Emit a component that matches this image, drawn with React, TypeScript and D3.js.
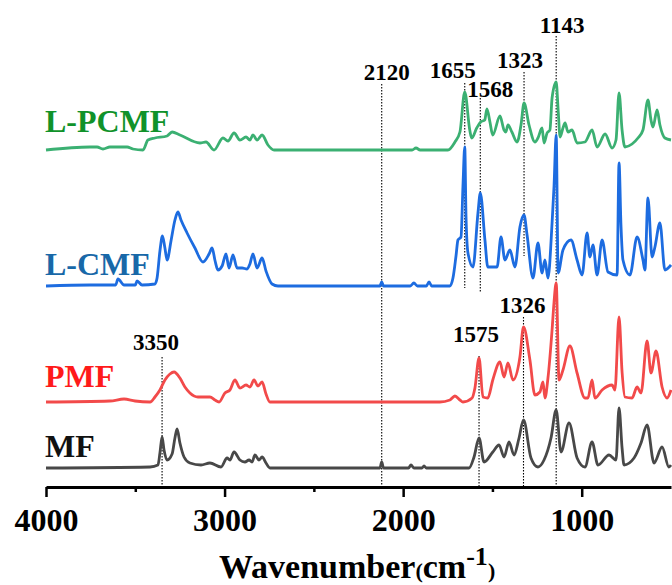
import { useEffect, useRef } from "react";
import * as d3 from "d3";

// FTIR spectra, [wavenumber (cm-1), intensity above own baseline (a.u.)]
const mfSpectrum: [number, number][] = [
  [4000, 0], [3417, 1], [3373, 3], [3362, 15], [3350, 31], [3339, 18], [3322, 8],
  [3294, 14], [3278, 30], [3266, 39], [3250, 25], [3227, 11], [3194, 5], [3132, 3],
  [3082, 5], [3020, 1], [2986, 10], [2970, 8], [2947, 16], [2914, 8], [2886, 6],
  [2863, 8], [2846, 6], [2830, 13], [2807, 8], [2790, 11], [2768, 5], [2746, 0],
  [2130, 0], [2120, 6], [2110, 0], [1970, 0], [1956, 3], [1940, 0], [1895, 0], [1883, 2],
  [1870, 0], [1631, 0], [1603, 11], [1575, 30], [1547, 6], [1498, 16], [1463, 23],
  [1435, 11], [1407, 26], [1379, 13], [1351, 30], [1326, 48], [1284, 10], [1245, 1],
  [1211, 8], [1172, 30], [1143, 58], [1116, 16], [1071, 45], [1026, 10], [982, 1],
  [942, 26], [909, 3], [847, 13], [808, 8], [791, 60], [774, 20], [763, 3], [707, 10],
  [668, 25], [634, 43], [595, 5], [550, 21], [512, 1], [500, 3],
];

const pmfSpectrum: [number, number][] = [
  [4000, 0], [3642, 1], [3563, 3], [3501, 1], [3417, 0], [3390, 5], [3362, 12],
  [3334, 22], [3306, 28], [3283, 30], [3250, 24], [3222, 15], [3194, 9], [3149, 5],
  [3082, 5], [3054, 2], [3031, 0], [2998, 9], [2970, 12], [2942, 22], [2914, 14],
  [2880, 17], [2858, 15], [2835, 22], [2813, 16], [2790, 20], [2768, 8], [2746, 0],
  [1794, 0], [1738, 2], [1710, 6], [1682, 2], [1665, 0], [1614, 4], [1598, 14],
  [1575, 44], [1553, 5], [1526, 4], [1498, 22], [1458, 40], [1435, 25], [1413, 39],
  [1385, 22], [1346, 45], [1326, 75], [1290, 42], [1262, 7], [1234, 10], [1217, 20],
  [1206, 4], [1189, 24], [1166, 72], [1155, 100], [1143, 119], [1127, 22], [1105, 32],
  [1066, 56], [1026, 29], [982, 4], [965, 4], [942, 22], [926, 4], [886, 12], [830, 17],
  [814, 12], [791, 85], [774, 30], [758, 5], [718, 4], [690, 15], [668, 9], [634, 61],
  [612, 29], [584, 51], [550, 15], [522, 4], [500, 12],
];

const lcmfSpectrum: [number, number][] = [
  [4000, 0], [3754, 1], [3610, 1], [3597, 7], [3563, 1], [3500, 1], [3490, 5],
  [3462, 1], [3390, 2], [3378, 8], [3362, 35], [3348, 50], [3334, 38], [3322, 26],
  [3300, 45], [3278, 66], [3261, 74], [3244, 66], [3210, 53], [3166, 38], [3121, 24],
  [3087, 32], [3070, 38], [3053, 25], [3037, 16], [3014, 20], [2992, 32], [2975, 18],
  [2953, 31], [2930, 18], [2902, 18], [2874, 17], [2858, 22], [2841, 32], [2818, 18],
  [2790, 28], [2768, 15], [2734, 2], [2701, 0], [2130, 0], [2120, 4], [2110, 0],
  [1960, 0], [1940, 3], [1920, 0], [1870, 0], [1855, 4], [1840, 0], [1738, 0],
  [1721, 8], [1704, 30], [1693, 46], [1676, 49], [1665, 100], [1655, 139], [1648, 70],
  [1637, 33], [1609, 19], [1581, 73], [1568, 93], [1542, 46], [1526, 19], [1474, 19],
  [1452, 49], [1430, 26], [1402, 36], [1374, 19], [1346, 59], [1323, 71], [1306, 51],
  [1273, 8], [1245, 43], [1222, 13], [1206, 26], [1189, 8], [1166, 63], [1155, 100],
  [1143, 151], [1132, 13], [1105, 36], [1060, 46], [1026, 26], [998, 11], [970, 53],
  [954, 29], [937, 41], [914, 11], [886, 46], [853, 14], [802, 11], [791, 123],
  [780, 60], [769, 26], [730, 11], [690, 49], [657, 26], [646, 16], [629, 88],
  [606, 29], [590, 39], [562, 63], [534, 16], [500, 21],
];

const lpcmfSpectrum: [number, number][] = [
  [4000, 0], [3754, 3], [3714, 3], [3681, 1], [3642, 3], [3546, 3], [3513, 1],
  [3457, 0], [3429, 10], [3390, 12], [3322, 14], [3294, 18], [3250, 15], [3138, 7],
  [3104, 8], [3059, 0], [3009, 12], [2981, 9], [2947, 17], [2914, 10], [2880, 13],
  [2858, 10], [2841, 15], [2818, 10], [2790, 15], [2757, 5], [2723, 0], [1950, 0],
  [1928, 2], [1905, 0], [1749, 0], [1710, 8], [1682, 18], [1655, 58], [1627, 20],
  [1616, 12], [1588, 22], [1566, 28], [1543, 30], [1531, 41], [1514, 28], [1498, 15],
  [1458, 34], [1435, 20], [1425, 18], [1413, 25], [1391, 18], [1362, 8], [1340, 25],
  [1323, 47], [1295, 25], [1262, 8], [1245, 12], [1222, 22], [1211, 7], [1194, 17],
  [1178, 20], [1166, 52], [1143, 68], [1132, 40], [1121, 13], [1105, 22], [1093, 27],
  [1077, 18], [1054, 20], [1026, 7], [982, 8], [942, 20], [914, 3], [869, 16],
  [830, 2], [808, 10], [791, 57], [774, 20], [758, 3], [718, 6], [685, 12], [657, 20],
  [629, 50], [612, 30], [601, 23], [578, 40], [562, 25], [534, 12], [500, 10],
];

const seriesNames = ["MF", "PMF", "L-CMF", "L-PCMF"];
const seriesData = [mfSpectrum, pmfSpectrum, lcmfSpectrum, lpcmfSpectrum];
const seriesOffsets = [19, 85, 201, 337];
const lineColors = ["#484848", "#f24a4a", "#1d6ce0", "#3bb072"];
const labelColors = ["#111111", "#ff1a1a", "#1868a8", "#10922a"];
// label baseline, in a.u. on the same axis
const labelLevels = [30, 100, 212, 355];

const majorTicks = [4000, 3000, 2000, 1000];
const minorTicks = [3500, 2500, 1500];

// marked peaks: wavenumber, text, where the dotted guide starts and stops (a.u.)
const peakMarks = [
  { wn: 3350, text: "3350", label: 137, top: 130, bottom: 0 },
  { wn: 2120, text: "2120", label: 407, top: 403, bottom: 0 },
  { wn: 1655, text: "1655", label: 409, top: 404, bottom: 199 },
  { wn: 1568, text: "1568", label: 390, top: 389, bottom: 194 },
  { wn: 1323, text: "1323", label: 419, top: 415, bottom: 231 },
  { wn: 1143, text: "1143", label: 454, top: 451, bottom: 0 },
  { wn: 1575, text: "1575", label: 145, top: 131, bottom: 0 },
  { wn: 1326, text: "1326", label: 174, top: 170, bottom: 0 },
];
const markShift = [-6, 5, -12, 10, -4, 6, -3, -1];

const FONT = "'Liberation Serif', 'Times New Roman', serif";

export default function App() {
  const ref = useRef<SVGSVGElement>(null);

  useEffect(() => {
    const width = 672,
      height = 585;
    const svg = d3.select(ref.current);
    svg.selectAll("*").remove();

    const x = d3.scaleLinear().domain([4000, 500]).range([46, 671]);
    const y = d3.scaleLinear().domain([0, 480]).range([487, 7]);

    // dotted guides
    peakMarks.forEach((m, i) => {
      svg
        .append("line")
        .attr("x1", x(m.wn))
        .attr("x2", x(m.wn))
        .attr("y1", y(m.top))
        .attr("y2", y(m.bottom))
        .attr("stroke", "#000")
        .attr("stroke-width", 1.1)
        .attr("stroke-dasharray", "1.5,1.5");
    });

    // spectra
    seriesData.forEach((pts, i) => {
      const line = d3
        .line<[number, number]>()
        .x((d) => x(d[0]))
        .y((d) => y(d[1] + seriesOffsets[i]))
        .curve(d3.curveMonotoneX);
      svg
        .append("path")
        .datum(pts)
        .attr("d", line)
        .attr("fill", "none")
        .attr("stroke", lineColors[i])
        .attr("stroke-width", 2.8)
        .attr("stroke-linejoin", "round");

      svg
        .append("text")
        .attr("x", x(4000) - 1)
        .attr("y", y(labelLevels[i]))
        .attr("font-family", FONT)
        .attr("font-weight", "bold")
        .attr("font-size", 32)
        .attr("fill", labelColors[i])
        .text(seriesNames[i]);
    });

    // peak labels
    peakMarks.forEach((m, i) => {
      svg
        .append("text")
        .attr("x", x(m.wn) + markShift[i])
        .attr("y", y(m.label))
        .attr("text-anchor", "middle")
        .attr("font-family", FONT)
        .attr("font-weight", "bold")
        .attr("font-size", 23)
        .attr("fill", "#000")
        .text(m.text);
    });

    // x axis
    const axisG = svg.append("g").attr("transform", "translate(0," + y(0) + ")");
    axisG
      .call(
        d3
          .axisBottom(x)
          .tickValues(majorTicks)
          .tickSize(10)
          .tickSizeOuter(0)
          .tickPadding(11)
          .tickFormat(d3.format("d"))
      )
      .call((g) => g.select(".domain").attr("stroke-width", 3))
      .call((g) => g.selectAll(".tick line").attr("stroke-width", 2.5))
      .selectAll("text")
      .attr("font-family", FONT)
      .attr("font-weight", "bold")
      .attr("font-size", 32)
      .attr("fill", "#000");

    svg
      .append("g")
      .attr("transform", "translate(0," + y(0) + ")")
      .call(d3.axisBottom(x).tickValues(minorTicks).tickSize(5).tickSizeOuter(0).tickFormat(() => ""))
      .call((g) => g.select(".domain").remove())
      .call((g) => g.selectAll(".tick line").attr("stroke-width", 2.5));

    // axis title
    const title = svg
      .append("text")
      .attr("x", 219)
      .attr("y", 578)
      .attr("font-family", FONT)
      .attr("font-weight", "bold")
      .attr("font-size", 34)
      .attr("fill", "#000");
    title.append("tspan").text("Wavenumber");
    title.append("tspan").attr("font-size", 22).text("(");
    title.append("tspan").text("cm");
    title.append("tspan").attr("font-size", 26).attr("dy", -13).text("-1");
    title.append("tspan").attr("font-size", 22).attr("dy", 13).text(")");

    svg.attr("width", width).attr("height", height);
  }, []);

  return (
    <svg
      ref={ref}
      width={672}
      height={585}
      style={{ position: "absolute", left: 0, top: 0, background: "#fff" }}
    />
  );
}
